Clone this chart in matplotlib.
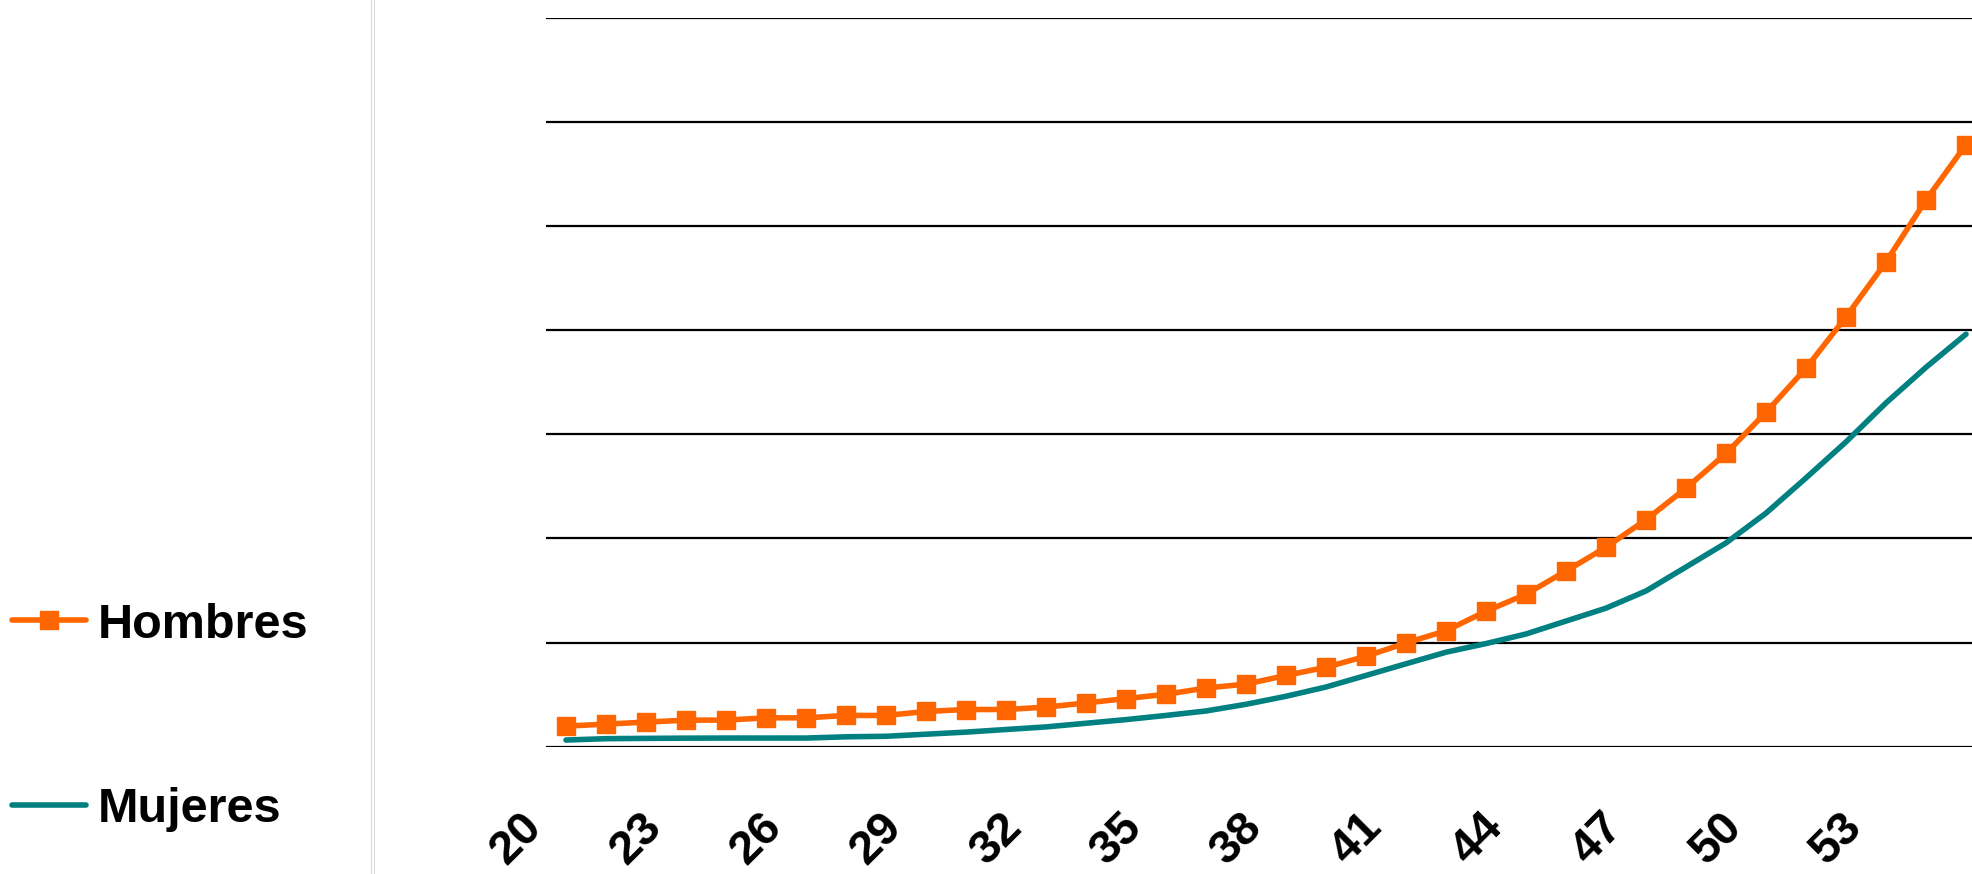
import matplotlib
matplotlib.use("Agg")
import matplotlib.pyplot as plt
import matplotlib.transforms as mtransforms
from matplotlib.lines import Line2D
import numpy as np

plt.rcParams['font.family'] = ['Liberation Sans', 'DejaVu Sans']

# edades y valores por sexo (una rejilla = 1 unidad)
edades = list(range(20, 56))
hombres = [0.197, 0.217, 0.236, 0.255, 0.255, 0.277, 0.277, 0.300, 0.300,
           0.338, 0.357, 0.357, 0.380, 0.420, 0.462, 0.503, 0.563, 0.601,
           0.684, 0.763, 0.868, 0.996, 1.113, 1.300, 1.464, 1.686, 1.915,
           2.179, 2.481, 2.815, 3.210, 3.633, 4.126, 4.654, 5.248, 5.780]
mujeres = [0.064, 0.077, 0.080, 0.082, 0.083, 0.083, 0.083, 0.095, 0.100,
           0.120, 0.140, 0.165, 0.190, 0.225, 0.260, 0.300, 0.343, 0.407,
           0.484, 0.573, 0.684, 0.796, 0.907, 0.990, 1.082, 1.206, 1.330,
           1.495, 1.725, 1.956, 2.242, 2.580, 2.926, 3.300, 3.642, 3.960]
etiquetas_x = [str(e) for e in edades[::3]]

W, H, DPI = 1972, 874, 100
naranja = '#FF6600'
verde = '#008080'

fig = plt.figure(figsize=(W / DPI, H / DPI), dpi=DPI)

# el area del grafico sobresale un poco por la derecha
x0, x1 = 546, 1986
y_base, y_top = 746.7, 17.5
ax = fig.add_axes([x0 / W, (H - y_base) / H, (x1 - x0) / W, (y_base - y_top) / H])

pos = np.arange(len(edades))
estilo_h = dict(color=naranja, lw=4.0, marker='s', ms=12.5, mec=naranja,
                solid_joinstyle='round', solid_capstyle='round')
estilo_m = dict(color=verde, lw=4.0, solid_joinstyle='round', solid_capstyle='round')

ax.plot(pos, mujeres, **estilo_m, zorder=3)
ax.plot(pos, hombres, **estilo_h, zorder=4, clip_on=False)

ax.set_xlim(-0.5, len(edades) - 0.5)
ax.set_ylim(0, 7)
ax.set_yticks(range(0, 8))
ax.yaxis.grid(True, color='black', lw=1.6)
ax.set_axisbelow(True)
ax.tick_params(axis='y', length=0, labelleft=False)
for s in ax.spines.values():
    s.set_visible(False)

ax.set_xticks(pos[::3])
ax.set_xticklabels(etiquetas_x, rotation=45, ha='right', va='top',
                   fontsize=34, fontweight='bold')
ax.tick_params(axis='x', length=0, pad=42)
desplaza = mtransforms.ScaledTranslation(-15 / DPI, 0, fig.dpi_scale_trans)
for lab in ax.get_xticklabels():
    lab.set_transform(lab.get_transform() + desplaza)

# separador vertical gris a la izquierda del grafico
for xs in (370.5, 373.5):
    fig.add_artist(Line2D([xs / W, xs / W], [0, 1], transform=fig.transFigure,
                          color='#dcdcdc', lw=0.8))

# leyenda
def fx(px):
    return px / W

def fy(py):
    return (H - py) / H

for py, nombre, estilo in ((620, 'Hombres', estilo_h), (805, 'Mujeres', estilo_m)):
    fig.add_artist(Line2D([fx(12), fx(86)], [fy(py), fy(py)],
                          transform=fig.transFigure, **estilo, markevery=[]))
    if 'marker' in estilo:
        fig.add_artist(Line2D([fx(49)], [fy(py)], transform=fig.transFigure,
                              ls='none', marker='s', ms=12.5, color=naranja))
    fig.text(fx(98), fy(py), nombre, fontsize=35, fontweight='bold',
             ha='left', va='center_baseline')

fig.savefig('out.png', dpi=DPI, facecolor='white')
